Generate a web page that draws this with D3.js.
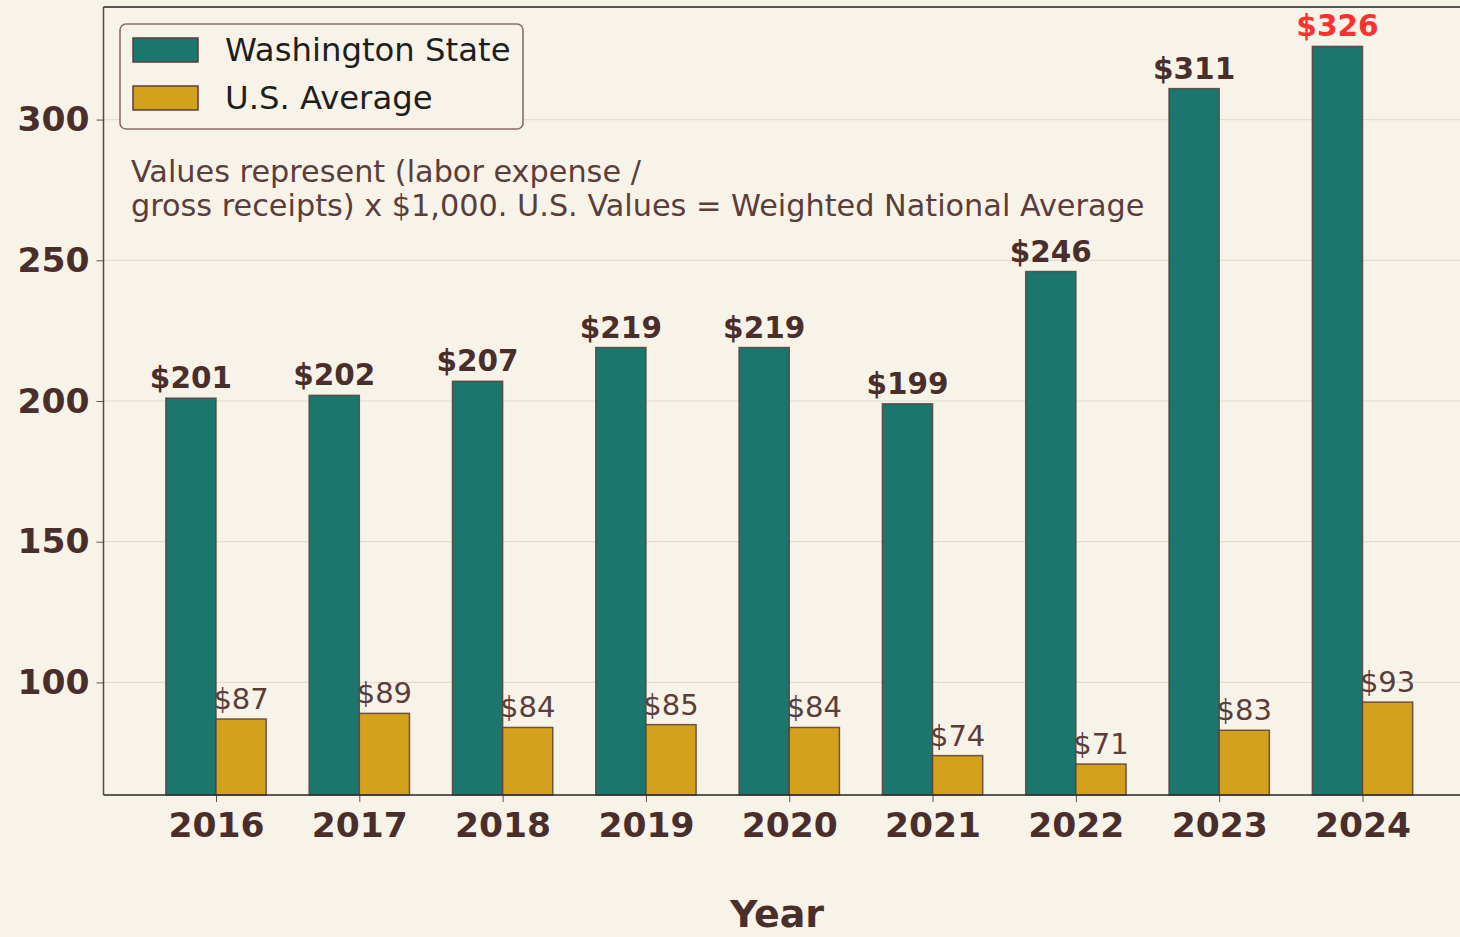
<!DOCTYPE html>
<html><head><meta charset="utf-8">
<script src="https://cdn.jsdelivr.net/npm/d3@7"></script>
<style>
html,body{margin:0;padding:0;background:#f8f3e8;overflow:hidden}
svg{display:block;font-family:"DejaVu Sans",sans-serif}
</style></head><body>
<svg id="c" width="1460" height="937"></svg>
<script>
const years = ["2016","2017","2018","2019","2020","2021","2022","2023","2024"];
const waValues = [201,202,207,219,219,199,246,311,326];
const usValues = [87,89,84,85,84,74,71,83,93];
const yTicks = [100,150,200,250,300];
const seriesNames = ["Washington State","U.S. Average"];
const colors = {wa:"#1b776e", us:"#d4a11c", dark:"#4a2e2c", bg:"#f8f3e8"};

(function(){
const svg = d3.select("#c");
svg.append("rect").attr("width",1460).attr("height",937).attr("fill",colors.bg);

const mL = 103.5, mR = 1475, mT = 7, mB = 795;
const x = d3.scaleLinear().domain([-0.785, 8.785]).range([mL, mR]);
const y = d3.scaleLinear().domain([60, 340]).range([mB, mT]);
const bw = 0.35;

// grid
svg.append("g").selectAll("line").data(yTicks).join("line")
  .attr("x1", mL).attr("x2", mR)
  .attr("y1", d=>y(d)).attr("y2", d=>y(d))
  .attr("stroke","#e4dccf").attr("stroke-width",1.2);

// bars
const g = svg.append("g");
g.selectAll("rect.wa").data(waValues).join("rect").attr("class","wa")
  .attr("x",(d,i)=>x(i-bw)).attr("width",x(bw)-x(0))
  .attr("y",d=>y(d)).attr("height",d=>y(60)-y(d))
  .attr("fill",colors.wa).attr("stroke","#5a3d3b").attr("stroke-opacity",0.85).attr("stroke-width",1.5);
g.selectAll("rect.us").data(usValues).join("rect").attr("class","us")
  .attr("x",(d,i)=>x(i)).attr("width",x(bw)-x(0))
  .attr("y",d=>y(d)).attr("height",d=>y(60)-y(d))
  .attr("fill",colors.us).attr("stroke","#5a3d3b").attr("stroke-opacity",0.85).attr("stroke-width",1.5);

// labels
const maxWa = d3.max(waValues);
g.selectAll("text.wal").data(waValues).join("text").attr("class","wal")
  .attr("x",(d,i)=>x(i-bw/2)).attr("y",d=>y(d)-10)
  .attr("text-anchor","middle").attr("font-weight","bold").attr("font-size",29.5)
  .attr("fill",d=>d===maxWa?"#ff3030":colors.dark)
  .text(d=>"$"+d);
g.selectAll("text.usl").data(usValues).join("text").attr("class","usl")
  .attr("x",(d,i)=>x(i+bw/2)).attr("y",d=>y(d)-10)
  .attr("text-anchor","middle").attr("font-size",29)
  .attr("fill","#5a3e3c")
  .text(d=>"$"+d);

// axes
const ya = svg.append("g").attr("transform",`translate(${mL},0)`)
  .call(d3.axisLeft(y).tickValues(yTicks).tickSize(7).tickPadding(7).tickFormat(d3.format("d")));
ya.select(".domain").remove();
ya.selectAll("text").attr("font-size",34.5).attr("font-weight","bold").attr("fill",colors.dark)
  .attr("font-family","DejaVu Sans");
ya.selectAll("line").attr("stroke","#555");

const xa = svg.append("g").attr("transform",`translate(0,${mB})`)
  .call(d3.axisBottom(x).tickValues(d3.range(years.length)).tickSize(7).tickPadding(11).tickFormat(i=>years[i]));
xa.select(".domain").remove();
xa.selectAll("text").attr("font-size",34.5).attr("font-weight","bold").attr("fill",colors.dark)
  .attr("font-family","DejaVu Sans");
xa.selectAll("line").attr("stroke","#555");

// spines
svg.append("line").attr("x1",mL).attr("x2",mL).attr("y1",mT).attr("y2",mB).attr("stroke","#333").attr("stroke-width",1.5).attr("stroke-opacity",0.85);
svg.append("line").attr("x1",mL).attr("x2",mR).attr("y1",mB).attr("y2",mB).attr("stroke","#333").attr("stroke-width",1.8).attr("stroke-opacity",0.8);
svg.append("line").attr("x1",mL).attr("x2",mR).attr("y1",mT).attr("y2",mT).attr("stroke","#222").attr("stroke-width",1.5);

// x label
svg.append("text").attr("x",777).attr("y",927).attr("text-anchor","middle")
  .attr("font-size",38).attr("font-weight","bold").attr("fill",colors.dark).text("Year");

// annotation
const ann = svg.append("text").attr("x",131).attr("font-size",30.3).attr("fill","#5a3e3c");
ann.append("tspan").attr("x",131).attr("y",182).text("Values represent (labor expense /");
ann.append("tspan").attr("x",131).attr("y",216).text("gross receipts) x $1,000. U.S. Values = Weighted National Average");

// legend
const lg = svg.append("g");
lg.append("rect").attr("x",120).attr("y",24).attr("width",403).attr("height",105).attr("rx",6)
  .attr("fill",colors.bg).attr("stroke","#8a6e6c").attr("stroke-width",1.6);
const legendColors=[colors.wa, colors.us];
seriesNames.forEach((n,i)=>{
  lg.append("rect").attr("x",133).attr("y",38+i*48).attr("width",65).attr("height",24)
    .attr("fill",legendColors[i]).attr("stroke","#5a3d3b").attr("stroke-width",1.5);
  lg.append("text").attr("x",225).attr("y",61+i*48).attr("font-size",32.3).attr("fill","#1e1e1e").text(n);
});
})();
</script></body></html>
